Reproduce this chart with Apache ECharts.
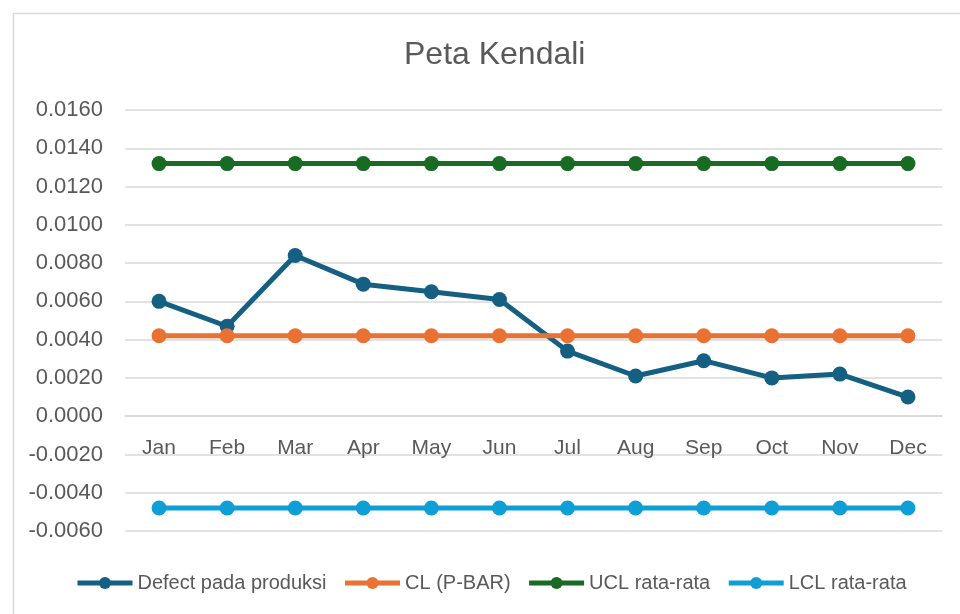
<!DOCTYPE html>
<html>
<head>
<meta charset="utf-8">
<script src="https://cdn.jsdelivr.net/npm/echarts@6/dist/echarts.min.js"></script>
<style>
html,body{margin:0;padding:0;background:#fff;}
#c{width:960px;height:614px;}
</style>
</head>
<body>
<div id="c"></div>
<script>
const categories = ['Jan','Feb','Mar','Apr','May','Jun','Jul','Aug','Sep','Oct','Nov','Dec'];
const defect = [0.0060, 0.0047, 0.0084, 0.0069, 0.0065, 0.0061, 0.0034, 0.0021, 0.0029, 0.0020, 0.0022, 0.0010];
const cl  = [0.0042,0.0042,0.0042,0.0042,0.0042,0.0042,0.0042,0.0042,0.0042,0.0042,0.0042,0.0042];
const ucl = [0.0132,0.0132,0.0132,0.0132,0.0132,0.0132,0.0132,0.0132,0.0132,0.0132,0.0132,0.0132];
const lcl = [-0.0048,-0.0048,-0.0048,-0.0048,-0.0048,-0.0048,-0.0048,-0.0048,-0.0048,-0.0048,-0.0048,-0.0048];
const seriesNames = ['Defect pada produksi','CL (P-BAR)','UCL rata-rata','LCL rata-rata'];
const colors = ['#156082','#E97132','#196B24','#0F9ED5'];

const font = 'Liberation Sans, Arial, sans-serif';
const chart = echarts.init(document.getElementById('c'), null, {renderer:'canvas'});
const mk = (name, data, color) => ({
  name, type:'line', data,
  symbol:'circle', symbolSize:15,
  lineStyle:{color, width:5},
  itemStyle:{color},
  emphasis:{disabled:true},
  animation:false
});
chart.setOption({
  animation:false,
  color: colors,
  graphic:[{
    type:'rect', left:11, top:11, silent:true,
    shape:{width:980, height:640},
    style:{fill:'none', stroke:'#d9d9d9', lineWidth:1.5}
  }],
  title:{
    text:'Peta Kendali', left:399, top:34,
    textStyle:{fontFamily:font, fontSize:32, fontWeight:'normal', color:'#595959'}
  },
  legend:{
    top:568, left:70,
    itemWidth:55, itemHeight:15, itemGap:16,
    lineStyle:{width:5},
    textStyle:{fontFamily:font, fontSize:20, color:'#595959'},
    data: seriesNames
  },
  grid:{left:125, right:18, top:110, bottom:83, containLabel:false},
  xAxis:{
    type:'category', data:categories, boundaryGap:true,
    offset:-115,
    axisLine:{show:true, onZero:false, lineStyle:{color:'#d9d9d9', width:1.5}},
    axisTick:{show:false},
    axisLabel:{fontFamily:font, fontSize:21, color:'#595959', margin:22}
  },
  yAxis:{
    type:'value', min:-0.006, max:0.016, interval:0.002,
    axisLine:{show:false}, axisTick:{show:false},
    splitLine:{lineStyle:{color:'#d9d9d9', width:1.5}},
    axisLabel:{fontFamily:font, fontSize:22, color:'#595959', margin:22,
      formatter:v => v.toFixed(4)}
  },
  series:[
    mk(seriesNames[0], defect, colors[0]),
    mk(seriesNames[1], cl, colors[1]),
    mk(seriesNames[2], ucl, colors[2]),
    mk(seriesNames[3], lcl, colors[3])
  ]
});
</script>
</body>
</html>
